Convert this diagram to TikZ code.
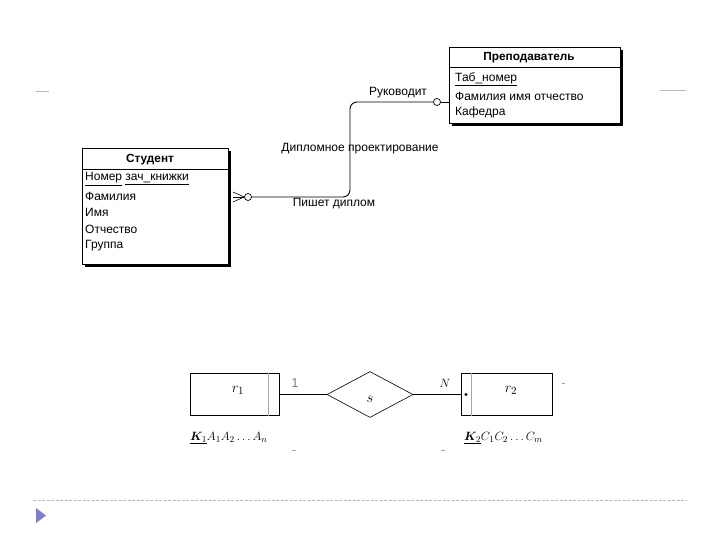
\documentclass[tikz,border=0pt]{standalone}
\usepackage{fontspec}
\setmainfont{Liberation Sans}
\usepackage{bm}
\usetikzlibrary{positioning, shadows, shapes.geometric}

\tikzset{
  entbox/.style={draw, line width=0.9pt, fill=white, inner sep=0pt, anchor=north west,
    drop shadow={shadow xshift=2.5pt, shadow yshift=-2.5pt, fill=black, opacity=1}},
  enthead/.style={font=\fontsize{11.8}{13}\selectfont\bfseries},
  attr/.style={font=\fontsize{12}{13}\selectfont, anchor=west, inner sep=0pt},
  lbl/.style={font=\fontsize{12}{13}\selectfont, inner sep=1pt},
  conn/.style={line width=0.9pt},
  optc/.style={circle, draw, line width=0.7pt, fill=white, inner sep=0pt, minimum size=7pt},
  relbox/.style={draw, line width=0.6pt, inner sep=0pt, minimum width=89pt, minimum height=42pt},
  mlbl/.style={font=\fontsize{13}{15}\selectfont, inner sep=1pt},
  rlbl/.style={font=\fontsize{15.5}{17}\selectfont, inner sep=1pt}
}

\begin{document}
\begin{tikzpicture}[x=1pt, y=-1pt]
\useasboundingbox (0,0) rectangle (720,540);
% slide decoration
\draw[gray!55, line width=0.8pt] (36,91) -- (49,91);
\draw[gray!55, line width=0.8pt] (660,90) -- (686,90);
\draw[gray!55, dash pattern=on 3pt off 1.5pt, line width=0.8pt] (33,500) -- (686,500);
\fill[blue!45!gray!70] (36,508) -- (46,515.5) -- (36,523) -- cycle;

% teacher
\node[entbox, minimum width=171pt, minimum height=76pt] (teacher) at (449,47) {};
\draw[line width=0.8pt] (teacher.west |- 0,67) -- (teacher.east |- 0,67);
\node[enthead] (thead) at (529,58) {Преподаватель};
\node[attr] (tnum) at (455,79) {\underline{Таб\_номер}};
\node[attr] (tfio) at (455,96) {Фамилия имя отчество};
\node[attr] (tdep) at (455,112) {Кафедра};

% student
\node[entbox, minimum width=146pt, minimum height=116pt] (student) at (82,148) {};
\draw[line width=0.8pt] (student.west |- 0,169) -- (student.east |- 0,169);
\node[enthead] (shead) at (150,160) {Студент};
\node[attr] (snum) at (85,179) {\underline{Номер} \underline{зач\_книжки}};
\node[attr] (ssur) at (85,196) {Фамилия};
\node[attr] (sname) at (85,212) {Имя};
\node[attr] (spat) at (85,229) {Отчество};
\node[attr] (sgrp) at (85,246) {Группа};

% relationship
\node[optc] (ostud) at (248,197) {};
\node[optc] (oteach) at (437,102) {};
\coordinate (sfoot) at (student.east |- ostud);
\foreach \dy in {-5,0,5}
  \draw[line width=0.6pt] ([xshift=4pt, yshift=\dy pt]sfoot) -- (ostud.west);
\draw[conn, rounded corners=7pt] (ostud.east) -- (350,197) -- (350,102) -- (oteach.west);
\draw[conn] (oteach.east) -- (oteach -| teacher.west);
\node[lbl] (lead) at (398,93) {Руководит};
\node[lbl] (diplom) at (360,149) {Дипломное проектирование};
\node[lbl] (writes) at (334,204) {Пишет диплом};

% lower scheme
\node[relbox] (rone) at (234.5,394.5) {};
\draw[gray!70, line width=0.6pt] ([xshift=-11pt]rone.north east) -- ([xshift=-11pt]rone.south east);
\node[rlbl] (ronel) at (238,390) {$r_1$};
\node[diamond, draw, line width=0.6pt, inner sep=0pt, minimum width=86pt, minimum height=46pt] (srel) at (370,394.5) {};
\node[rlbl] (sl) at (370,399) {$s$};
\node[relbox, minimum width=91pt] (rtwo) at (506.5,394.5) {};
\draw[gray!70, line width=0.6pt] ([xshift=11pt]rtwo.north west) -- ([xshift=11pt]rtwo.south west);
\fill (466,394.5) circle (1.6pt);
\node[rlbl] (rtwol) at (511,390) {$r_2$};
\draw[line width=0.6pt] (rone.east) -- (srel.west);
\draw[line width=0.6pt] (srel.east) -- (rtwo.west);
\node[mlbl, text=gray] (one) at (295,383) {1};
\node[mlbl] (nn) at (445,383) {$N$};
\node[mlbl, anchor=west] (keyone) at (189,438) {$\underline{\bm{K}_1}A_1A_2\ldots A_n$};
\node[mlbl, anchor=west] (keytwo) at (463,438) {$\underline{\bm{K}_2}C_1C_2\ldots C_m$};
\draw[gray!70, line width=0.8pt] (292,450) -- (296,450);
\draw[gray!70, line width=0.8pt] (441,450) -- (445,450);
\draw[gray!70, line width=0.8pt] (562,383) -- (565,383);
\end{tikzpicture}
\end{document}
